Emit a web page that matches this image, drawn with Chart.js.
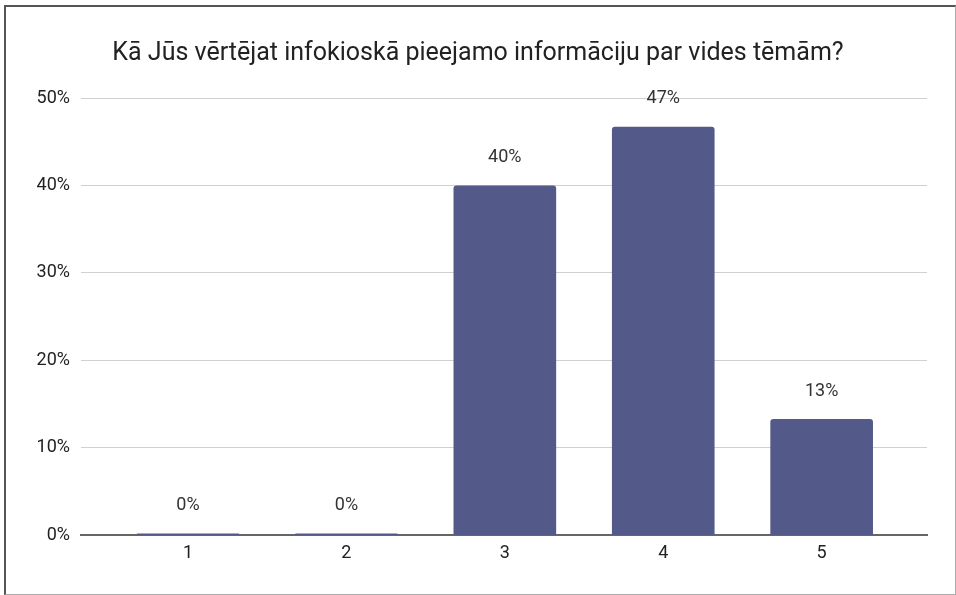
<!DOCTYPE html>
<html>
<head>
<meta charset="utf-8">
<script src="https://cdn.jsdelivr.net/npm/chart.js@4.4.1/dist/chart.umd.min.js"></script>
<style>
  html, body { margin: 0; padding: 0; background: #fff; }
  #wrap { position: relative; width: 956px; height: 595px; }
  #frame {
    position: absolute; left: 4px; top: 5px; width: 952px; height: 590px;
    box-sizing: border-box; pointer-events: none;
    border-left: 2px solid #555; border-top: 2px solid #555;
    border-right: 1px solid #aaa; border-bottom: 1px solid #aaa;
  }
</style>
</head>
<body>
<div id="wrap">
  <canvas id="chart"></canvas>
  <div id="frame"></div>
</div>
<script>
const titleText = 'Kā Jūs vērtējat infokioskā pieejamo informāciju par vides tēmām?';
const categories = [1, 2, 3, 4, 5];
const shares = [0, 0, 40, 46.7, 13.3];
const yTicks = [0, 10, 20, 30, 40, 50];

// labels above each bar, like the sheet's data labels
const barLabels = {
  id: 'barLabels',
  afterDatasetsDraw(chart) {
    const ctx = chart.ctx;
    const meta = chart.getDatasetMeta(0);
    ctx.save();
    ctx.font = '18px Roboto';
    ctx.fillStyle = '#333';
    ctx.textAlign = 'center';
    ctx.textBaseline = 'middle';
    meta.data.forEach((bar, i) => {
      ctx.fillText(Math.round(shares[i]) + '%', bar.x, bar.y - 28);
    });
    ctx.restore();
  }
};

new Chart(document.getElementById('chart'), {
  type: 'bar',
  data: {
    datasets: [{
      data: categories.map((c, i) => ({ x: c, y: shares[i] })),
      backgroundColor: '#535a8a',
      borderRadius: { topLeft: 3, topRight: 3 },
      borderSkipped: 'bottom',
      minBarLength: 2,
      categoryPercentage: 1,
      barPercentage: 0.648
    }]
  },
  options: {
    responsive: true,
    maintainAspectRatio: false,
    animation: false,
    layout: { padding: { left: 0, right: 0, top: 0, bottom: 24 } },
    plugins: {
      legend: { display: false },
      tooltip: { enabled: false },
      title: {
        display: true,
        text: titleText,
        color: '#222',
        font: { family: 'Roboto', size: 25, weight: 'normal' },
        padding: { top: 39, bottom: 29 }
      }
    },
    scales: {
      x: {
        type: 'linear',
        offset: false,
        min: 0.3245,
        max: 5.665,
        grid: { display: false, drawTicks: false },
        border: { display: true, color: '#666', width: 2 },
        afterBuildTicks: (scale) => {
          scale.ticks = categories.map(v => ({ value: v }));
        },
        ticks: {
          color: '#222',
          padding: 7,
          font: { family: 'Roboto', size: 18 },
          callback: (v) => String(v)
        }
      },
      y: {
        min: 0,
        max: 50,
        afterBuildTicks: (scale) => {
          scale.ticks = yTicks.map(v => ({ value: v }));
        },
        afterFit: (scale) => { scale.width = 81; },
        grid: { color: '#d0d0d0', drawTicks: false },
        border: { display: false },
        ticks: {
          color: '#222',
          padding: 11,
          font: { family: 'Roboto', size: 18 },
          callback: (v) => v + '%'
        }
      },
      // empty right margin so the title stays centred on the page
      yRight: {
        position: 'right',
        min: 0,
        max: 50,
        grid: { display: false, drawTicks: false },
        border: { display: false },
        ticks: { display: false },
        afterFit: (scale) => { scale.width = 29; }
      }
    }
  },
  plugins: [barLabels]
});
</script>
</body>
</html>
